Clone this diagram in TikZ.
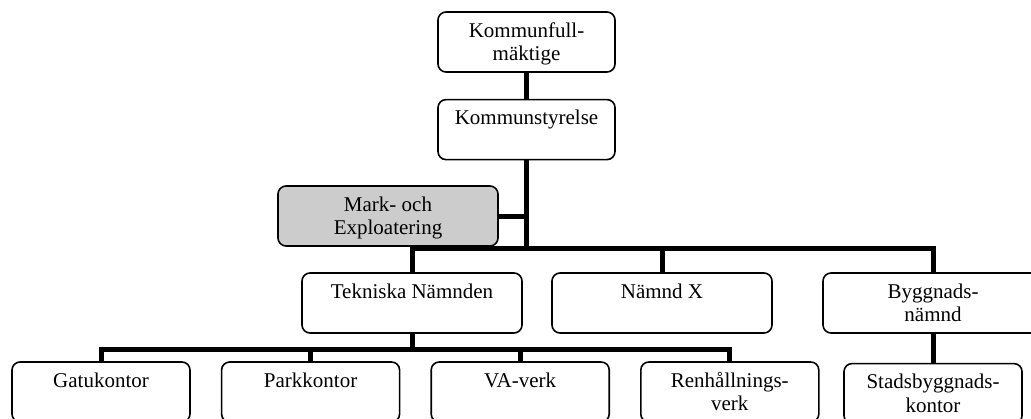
\documentclass[tikz,border=0pt]{standalone}
\usepackage{fontspec}
\setmainfont{Liberation Serif}
\usetikzlibrary{positioning}
\newcommand{\boxtext}[1]{\begin{tabular}[t]{@{}c@{}}#1\end{tabular}}

\begin{document}
\begin{tikzpicture}[
    x=0.5pt, y=-0.5pt,
    node distance=13pt and 15pt,
    org/.style={draw=black, fill=white, line width=0.8pt, rounded corners=4pt,
      minimum height=30pt, inner xsep=0pt, inner ysep=3.5pt,
      text height=9pt, text depth=14pt, font=\fontsize{10.5}{11.7}\selectfont},
    council/.style={org, minimum width=88.5pt},
    board/.style={org, minimum width=110pt},
    office/.style={org, minimum width=89pt},
    staffbox/.style={org, fill=gray!40, minimum width=110pt},
    conn/.style={line width=2.5pt, draw=black}
  ]
    \useasboundingbox (0,0) rectangle (1031,418);
    \clip (0,0) rectangle (1031,418);
    \node[council] (kfm) at (526.5,42) {\boxtext{Kommunfull-\\mäktige}};
    \node[council, below=of kfm] (kstyr) {\boxtext{Kommunstyrelse}};
    \node[staffbox] (mark) at (388,216) {\boxtext{Mark- och\\Exploatering}};
    \node[board] (tek) at (412,303) {\boxtext{Tekniska Nämnden}};
    \node[board] (nx) at (662,303) {\boxtext{Nämnd X}};
    \node[board] (bygg) at (933,303) {\boxtext{Byggnads-\\nämnd}};
    \node[office] (gatu) at (101,392) {\boxtext{Gatukontor}};
    \node[office, right=of gatu] (park) {\boxtext{Parkkontor}};
    \node[office, right=of park] (va) {\boxtext{VA-verk}};
    \node[office, right=of va] (renh) {\boxtext{Renhållnings-\\verk}};
    \node[office, below=14.5pt of bygg] (stad) {\boxtext{Stadsbyggnads-\\kontor}};
    \coordinate (bus) at (526.5,248);
    \coordinate (bus2) at (412,349);
    \draw[conn] (kfm) -- (kstyr);
    \draw[conn] (kstyr) -- (bus);
    \draw[conn] (mark) -- (mark -| bus);
    \draw[conn] (tek.north) |- (bus) -| (bygg.north);
    \draw[conn] (bus -| nx) -- (nx.north);
    \draw[conn] (tek) -- (bus2);
    \draw[conn] (gatu.north) |- (bus2) -| (renh.north);
    \foreach \n in {park, va}
      \draw[conn] (\n.north) -- (\n.north |- bus2);
    \draw[conn] (bygg) -- (stad);
  \end{tikzpicture}
\end{document}
